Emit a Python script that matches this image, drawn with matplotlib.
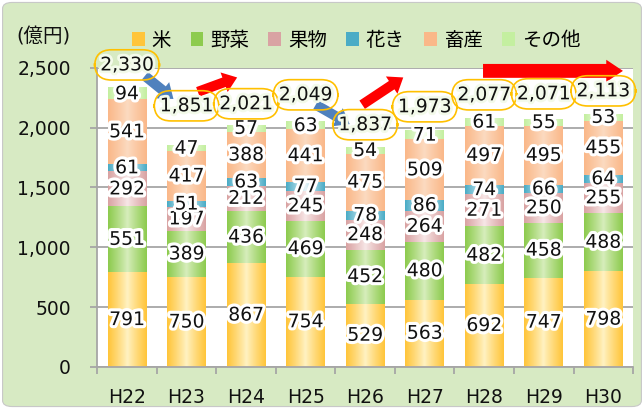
import numpy as np
import matplotlib
matplotlib.use('Agg')
import matplotlib.pyplot as plt
import matplotlib.patheffects as pe
from matplotlib.colors import LinearSegmentedColormap
from matplotlib.patches import Patch, FancyBboxPatch

plt.rcParams['font.family'] = ['DejaVu Sans', 'Noto Sans CJK JP']

# values (億円)
years = ['H22', 'H23', 'H24', 'H25', 'H26', 'H27', 'H28', 'H29', 'H30']
kome = [791, 750, 867, 754, 529, 563, 692, 747, 798]
yasai = [551, 389, 436, 469, 452, 480, 482, 458, 488]
kudamono = [292, 197, 212, 245, 248, 264, 271, 250, 255]
kaki = [61, 51, 63, 77, 78, 86, 74, 66, 64]
chikusan = [541, 417, 388, 441, 475, 509, 497, 495, 455]
sonota = [94, 47, 57, 63, 54, 71, 61, 55, 53]
totals = [2330, 1851, 2021, 2049, 1837, 1973, 2077, 2071, 2113]

series = [('米', kome), ('野菜', yasai), ('果物', kudamono),
          ('花き', kaki), ('畜産', chikusan), ('その他', sonota)]
edge_cols = ['#FFC53A', '#8DCB4E', '#D9A3A3', '#4BACC6', '#FAB889', '#C4EFA0']
mid_cols = ['#FFF1C0', '#D6EDBA', '#F7E6E6', '#E6F4F8', '#FCDAC0', '#F8FFF2']

# label offset above bar top for the total boxes
total_offset = [195, 332, 179, 226, 188, 202, 198, 212, 195]

fig = plt.figure(figsize=(6.44, 4.09), dpi=100)
fig.patch.set_facecolor('white')
bg = FancyBboxPatch((0.004, 0.006), 0.992, 0.988,
                    boxstyle='round,pad=0,rounding_size=0.015',
                    transform=fig.transFigure, facecolor='#D7EAC3',
                    edgecolor='#C8C8C8', lw=0.8, zorder=-10)
fig.patches.append(bg)

ax = fig.add_axes([0.151, 0.103, 0.832, 0.731])
ax.set_facecolor('white')
x = np.arange(len(years))
w = 0.65
glow = [pe.withStroke(linewidth=4.5, foreground='white')]

bottom = np.zeros(len(years))
for (name, vals), ec, mc in zip(series, edge_cols, mid_cols):
    bars = ax.bar(x, vals, w, bottom=bottom, color=ec, zorder=2)
    cmap = LinearSegmentedColormap.from_list(name, [mc, ec])
    g = np.abs(np.linspace(-1, 1, 64)) ** 0.9
    for p in bars:
        ax.imshow(g[np.newaxis, :], cmap=cmap, aspect='auto', origin='lower',
                  extent=(p.get_x(), p.get_x() + p.get_width(),
                          p.get_y(), p.get_y() + p.get_height()),
                  interpolation='bilinear', zorder=2.5)
    for i, v in enumerate(vals):
        ax.text(x[i], bottom[i] + v / 2, str(v), ha='center', va='center',
                fontsize=13.5, color='#111111', path_effects=glow, zorder=5)
    bottom += np.array(vals)

for i, t in enumerate(totals):
    ax.text(x[i], t + total_offset[i], f'{t:,}', ha='center', va='center',
            fontsize=13.5, color='#111111', zorder=7, clip_on=False,
            path_effects=[pe.withStroke(linewidth=4, foreground='#F3FAEA')],
            bbox=dict(boxstyle='round,pad=0.3,rounding_size=0.9',
                      fc='none', ec='#FFC000', lw=1.2))

blue = '#4F81BD'
red = '#FF0000'
small = 'simple,head_length=0.5,head_width=0.75,tail_width=0.36'
arrows = [((0.30, 2433), (0.78, 2240), blue, small),
          ((1.19, 2300), (1.85, 2420), red, small),
          ((3.17, 2192), (3.74, 2030), blue, small),
          ((3.95, 2192), (4.64, 2420), red, small),
          ((5.98, 2475), (8.33, 2475), red,
           'simple,head_length=0.6,head_width=0.8,tail_width=0.5')]
for start, end, c, style in arrows:
    ax.annotate('', xy=end, xytext=start, annotation_clip=False, zorder=6,
                arrowprops=dict(arrowstyle=style, mutation_scale=20, color=c,
                                shrinkA=0, shrinkB=0, lw=0))

ax.set_xlim(-0.5, len(years) - 0.5)
ax.set_ylim(0, 2500)
ax.set_yticks(range(0, 2501, 500))
ax.set_yticklabels([f'{v:,}' for v in range(0, 2501, 500)])
ax.set_xticks(x)
ax.set_xticklabels(years)
ax.set_xticks(np.arange(-0.5, len(years)), minor=True)
ax.set_axisbelow(True)
ax.yaxis.grid(True, color='#A6A6A6', lw=1.3)
for s in ['top', 'right']:
    ax.spines[s].set_visible(False)
for s in ['left', 'bottom']:
    ax.spines[s].set_color('#A6A6A6')
    ax.spines[s].set_linewidth(1.3)
ax.tick_params(axis='y', length=5, width=1.3, color='#A6A6A6',
               labelsize=13.5, pad=14, labelcolor='#111111')
ax.tick_params(axis='x', which='major', length=0, labelsize=13.5, pad=15,
               labelcolor='#111111')
ax.tick_params(axis='x', which='minor', length=5, width=1.3, color='#A6A6A6')

handles = [Patch(facecolor=c, edgecolor='none') for c in edge_cols]
fig.legend(handles, [n for n, _ in series], loc='center',
           bbox_to_anchor=(0.553, 0.902), ncol=6, frameon=False, fontsize=14,
           handlelength=0.65, handleheight=0.75, handletextpad=0.35,
           columnspacing=1.0)
fig.text(0.026, 0.91, '(億円)', fontsize=14, va='center', color='#111111')

fig.savefig('out.png', dpi=100)
